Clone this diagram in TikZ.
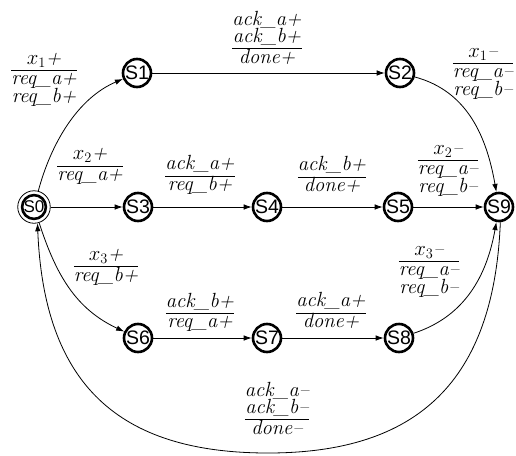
\documentclass[tikz,border=0pt]{standalone}
\usepackage{fontspec}
\newfontfamily\statefont{Liberation Sans}
\newfontfamily\labfont{Latin Modern Roman}[FakeBold=0.6]
\usetikzlibrary{arrows.meta}
\newcommand{\lstrut}{\rule[-5.5pt]{0pt}{19pt}}
\newcommand{\stk}[1]{\vbox{\baselineskip=17.5pt\lineskiplimit=-100pt\lineskip=0pt\halign{\hfil\lstrut##\hfil\cr#1\crcr}}}
\newcommand{\fr}[2]{\vbox{\offinterlineskip\halign{\hfil##\hfil\cr\stk{#1}\cr\noalign{\kern0.3pt\hrule height 0.9pt\kern0.3pt}\stk{#2}\cr}}}
\tikzset{
  st/.style={circle, draw, line width=2.6pt, minimum size=28pt, inner sep=0pt,
    font=\statefont\fontsize{19.5}{19.5}\selectfont},
  acc/.style={circle, draw, line width=0.8pt, minimum size=32.5pt, inner sep=0pt,
    font=\statefont\fontsize{17}{17}\selectfont,
    path picture={\draw[line width=2.6pt] (path picture bounding box.center) circle[radius=11.9pt];}},
  lbl/.style={inner sep=0pt, font=\fontsize{20.5}{17}\selectfont\itshape\addfontfeatures{FakeBold=0.6}},
  conn/.style={line width=0.8pt, -{Latex[length=8pt,width=5.5pt]}}
}
\begin{document}
\begin{tikzpicture}[x=1pt,y=-1pt]
\useasboundingbox (0,0) rectangle (516,455);
% states
\node[acc] (S0) at (34,207) {S0};
\node[st] (S1) at (137,73) {S1};
\node[st] (S2) at (400,73) {S2};
\node[st] (S3) at (138,207) {S3};
\node[st] (S4) at (267,207) {S4};
\node[st] (S5) at (398,207) {S5};
\node[st] (S9) at (499,207) {S9};
\node[st] (S6) at (138,338) {S6};
\node[st] (S7) at (267,338) {S7};
\node[st] (S8) at (399,338) {S8};
\coordinate (bot) at (268,453);
% connectors
\draw[conn] (S0) to[out=75,in=203,looseness=0.9] (S1);
\draw[conn] (S1) -- (S2);
\draw[conn] (S2) to[out=-15,in=100] (S9);
\draw[conn] (S0) -- (S3);
\draw[conn] (S3) -- (S4);
\draw[conn] (S4) -- (S5);
\draw[conn] (S5) -- (S9);
\draw[conn] (S0) to[out=-72,in=155] (S6);
\draw[conn] (S6) -- (S7);
\draw[conn] (S7) -- (S8);
\draw[conn] (S8) to[out=18,in=-100] (S9);
\draw[conn] (S9.-85) .. controls (494,381) and (418,453) .. (bot)
   .. controls (118,453) and (44,384) .. (S0.-78);
% labels
\node[lbl] (l1) at (44,79) {\fr{$x_1$+}{req\_a+\cr req\_b+}};
\node[lbl] (l2) at (267,40) {\fr{ack\_a+\cr ack\_b+}{done+}};
\node[lbl] (l3) at (483,72) {\fr{$x_1$--}{req\_a--\cr req\_b--}};
\node[lbl] (l4) at (90,166) {\fr{$x_2$+}{req\_a+}};
\node[lbl] (l5) at (200,176) {\fr{ack\_a+}{req\_b+}};
\node[lbl] (l6) at (332,177) {\fr{ack\_b+}{done+}};
\node[lbl] (l7) at (448,169) {\fr{$x_2$--}{req\_a--\cr req\_b--}};
\node[lbl] (l8) at (106,267) {\fr{$x_3$+}{req\_b+}};
\node[lbl] (l9) at (200,313) {\fr{ack\_b+}{req\_a+}};
\node[lbl] (l10) at (331,313) {\fr{ack\_a+}{done+}};
\node[lbl] (l11) at (429,270) {\fr{$x_3$--}{req\_a--\cr req\_b--}};
\node[lbl] (l12) at (277,411) {\fr{ack\_a--\cr ack\_b--}{done--}};
\end{tikzpicture}
\end{document}
